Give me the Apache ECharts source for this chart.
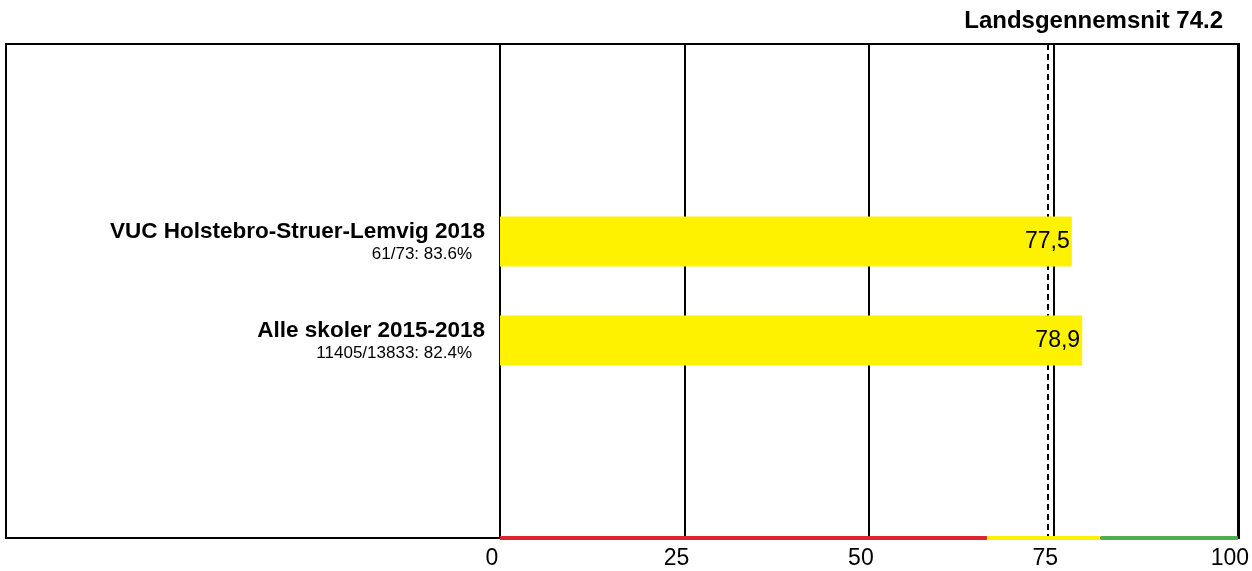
<!DOCTYPE html>
<html>
<head>
<meta charset="utf-8">
<script src="https://cdn.jsdelivr.net/npm/echarts@6/dist/echarts.min.js"></script>
<style>
  html, body { margin: 0; padding: 0; background: #fff; }
  #chart { width: 1252px; height: 571px; }
</style>
</head>
<body>
<div id="chart"></div>
<script>
// data
const categories = ['VUC Holstebro-Struer-Lemvig 2018', 'Alle skoler 2015-2018'];
const subLabels = ['61/73: 83.6%', '11405/13833: 82.4%'];
const values = [77.5, 78.9];
const nationalAvg = 74.2;
const xTicks = [0, 25, 50, 75, 100];
// colour bands under the axis: [from, to, colour]
const bandFrom = [0, 66, 81.4];
const bandTo = [66, 81.4, 100];
const bandColors = ['#d9262c', '#fff200', '#4cae4c'];

const font = "'Liberation Sans', Arial, sans-serif";

// two empty slots above and below so bars sit in the middle
const slots = ['', '', ...categories, '', ''];
const barData = slots.map((c) => {
  const k = categories.indexOf(c);
  return c && k >= 0 ? values[k] : '-';
});
const lastIdx = slots.length - 1;

const chart = echarts.init(document.getElementById('chart'));

const bandLines = bandFrom.map((f, i) => [
  { coord: [f, lastIdx], lineStyle: { color: bandColors[i], width: 4, type: 'solid' } },
  { coord: [bandTo[i], lastIdx] }
]);

chart.setOption({
  animation: false,
  textStyle: { fontFamily: font },
  title: {
    text: 'Landsgennemsnit ' + nationalAvg,
    right: 29,
    top: 9,
    padding: 0,
    textStyle: { fontSize: 24, fontWeight: 'bold', color: '#000', fontFamily: font }
  },
  grid: { left: 500, right: 12, top: 44, bottom: 33 },
  graphic: [{
    type: 'rect',
    z: 0,
    shape: { x: 6, y: 44, width: 1233, height: 494 },
    style: { fill: 'none', stroke: '#000', lineWidth: 2 }
  }],
  xAxis: {
    type: 'value',
    min: 0,
    max: 100,
    interval: 25,
    axisLine: { show: false },
    axisTick: { show: false },
    splitLine: { show: true, lineStyle: { color: '#000', width: 2 } },
    axisLabel: {
      fontSize: 23,
      color: '#000',
      margin: 9,
      padding: [0, 16, 0, 0],
      fontFamily: font,
      showMinLabel: true,
      showMaxLabel: true
    }
  },
  yAxis: {
    type: 'category',
    data: slots,
    inverse: true,
    boundaryGap: false,
    axisLine: { show: false },
    axisTick: { show: false },
    splitLine: { show: false },
    axisLabel: {
      margin: 15,
      interval: 0,
      align: 'right',
      formatter: (v) => {
        const k = categories.indexOf(v);
        if (!v || k < 0) return '';
        return '{b|' + v + '}\n{s|' + subLabels[k] + '}';
      },
      rich: {
        b: { fontSize: 22.5, fontWeight: 'bold', color: '#000', lineHeight: 26, fontFamily: font, align: 'right' },
        s: { fontSize: 17, color: '#000', lineHeight: 20, fontFamily: font, align: 'right', padding: [0, 13, 0, 0] }
      }
    }
  },
  series: [
    {
      // reference lines sit behind the bars
      type: 'line',
      data: [],
      z: 1,
      markLine: {
        z: 1,
        silent: true,
        symbol: 'none',
        animation: false,
        label: { show: false },
        data: [
          { xAxis: nationalAvg, lineStyle: { color: '#000', width: 2, type: [6, 4] } },
          ...bandLines
        ]
      }
    },
    {
      type: 'bar',
      data: barData,
      barWidth: 50,
      z: 3,
      itemStyle: { color: '#fff200' },
      label: {
        show: true,
        position: 'insideRight',
        distance: 2,
        fontSize: 23,
        color: '#000',
        fontFamily: font,
        formatter: (p) => String(p.value).replace('.', ',')
      }
    }
  ]
});

window.addEventListener('resize', () => chart.resize());
</script>
</body>
</html>
